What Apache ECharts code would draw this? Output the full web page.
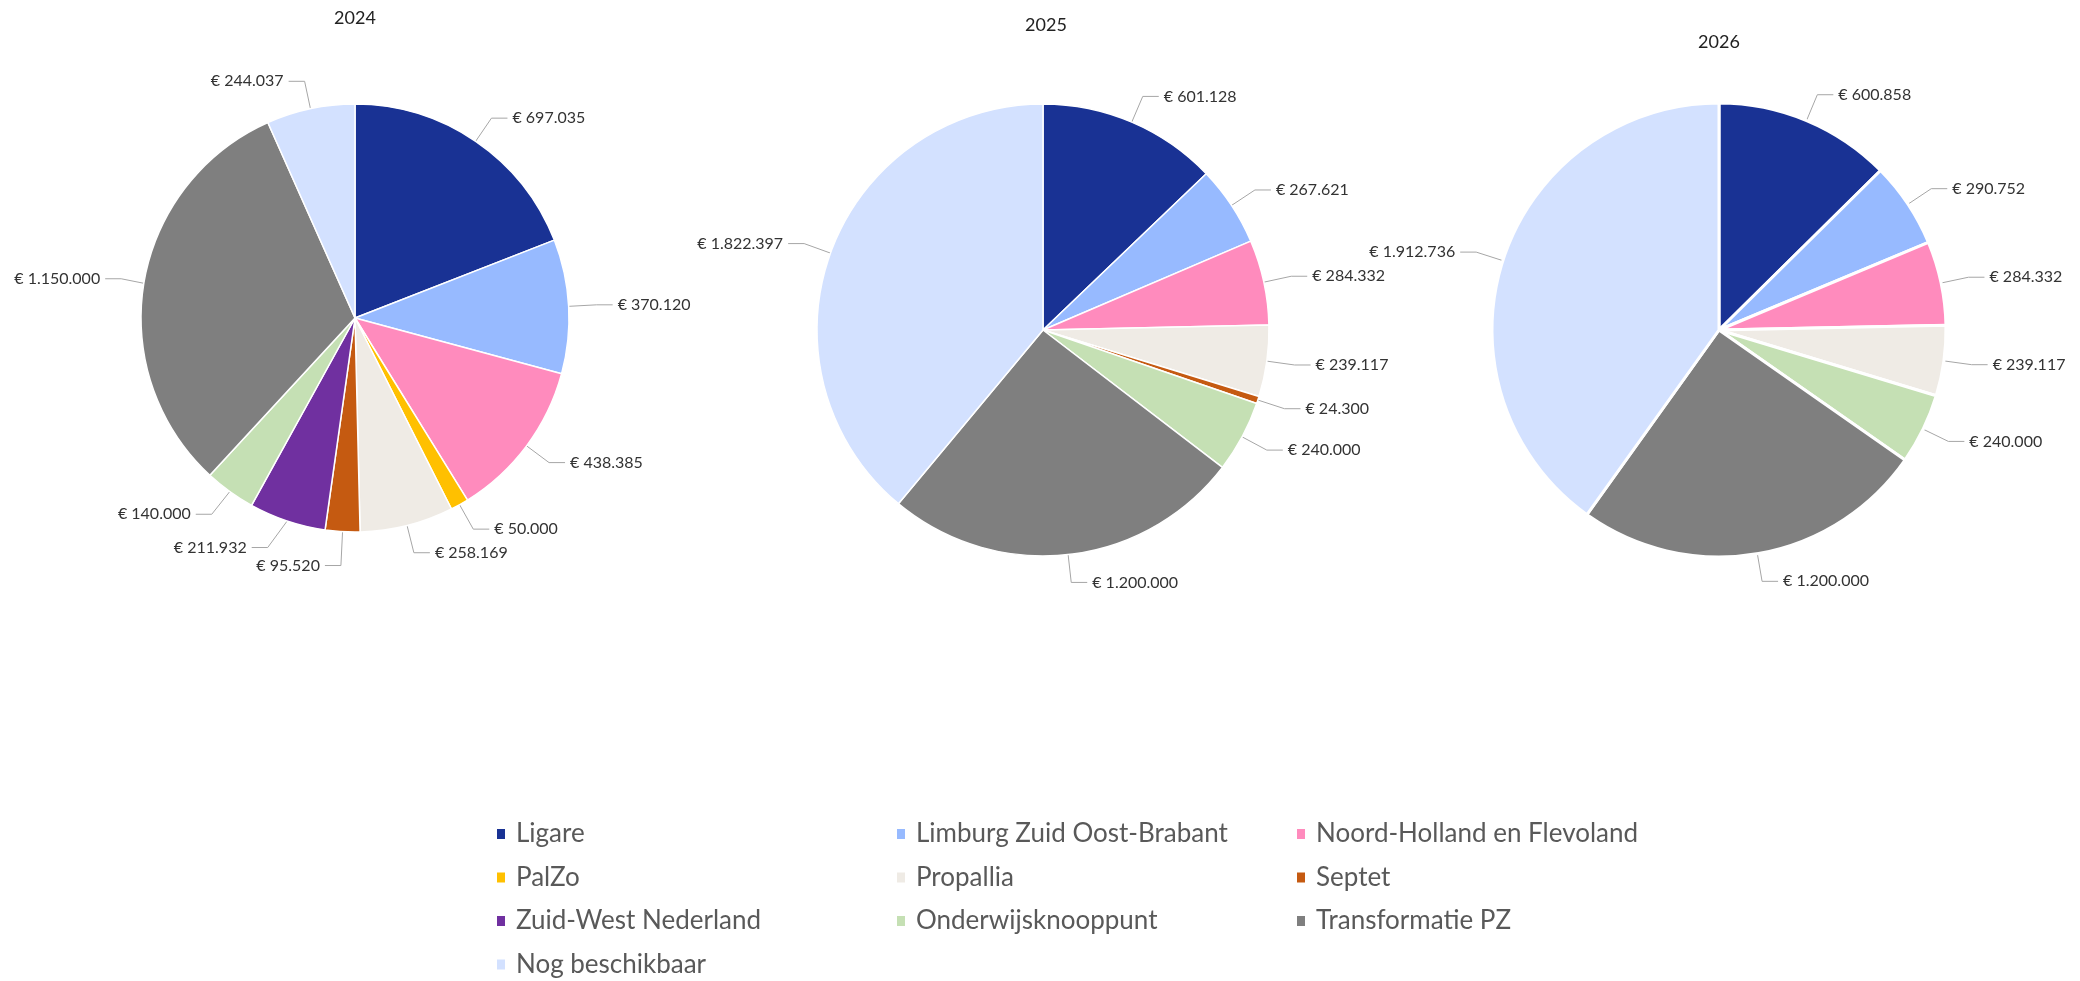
<!DOCTYPE html>
<html>
<head>
<meta charset="utf-8">
<title>Verdeling per jaar</title>
<script src="https://cdn.jsdelivr.net/npm/echarts@6/dist/echarts.min.js"></script>
<style>
  html, body { margin: 0; padding: 0; background: #fff; }
  #main { width: 2080px; height: 981px; }
</style>
</head>
<body>
<div id="main"></div>
<script>
// categories + colours (same order as in the legend)
const categories = [
  'Ligare', 'Limburg Zuid Oost-Brabant', 'Noord-Holland en Flevoland',
  'PalZo', 'Propallia', 'Septet',
  'Zuid-West Nederland', 'Onderwijsknooppunt', 'Transformatie PZ',
  'Nog beschikbaar'
];
const colors = [
  '#193294', '#97baff', '#ff8bbd',
  '#ffc000', '#efebe5', '#c55a11',
  '#7030a0', '#c5e0b4', '#7f7f7f',
  '#d3e1ff'
];
const years = ['2024', '2025', '2026'];

// null = no amount that year
const values2024 = [697035, 370120, 438385, 50000, 258169, 95520, 211932, 140000, 1150000, 244037];
const values2025 = [601128, 267621, 284332, null, 239117, 24300, null, 240000, 1200000, 1822397];
const values2026 = [600858, 290752, 284332, null, 239117, null, null, 240000, 1200000, 1912736];

const FONT = 'Lato';

function euro(v) {
  return '€ ' + String(v).replace(/\B(?=(\d{3})+(?!\d))/g, '.');
}

function pieData(values) {
  const out = [];
  values.forEach((v, i) => {
    if (v == null) return;
    out.push({ name: categories[i], value: v, itemStyle: { color: colors[i] } });
  });
  return out;
}

function pie(values, center, radius, border) {
  return {
    type: 'pie',
    center: center,
    radius: radius,
    startAngle: 90,
    clockwise: true,
    data: pieData(values),
    itemStyle: { borderColor: '#fff', borderWidth: border },
    label: {
      show: true,
      formatter: p => euro(p.value),
      fontFamily: FONT,
      fontSize: 16,
      color: '#333'
    },
    labelLine: {
      show: true,
      length: 28,
      length2: 16,
      lineStyle: { color: '#a6a6a6', width: 1 }
    },
    emphasis: { scale: false }
  };
}

function legend(names, left) {
  return {
    data: names,
    orient: 'vertical',
    left: left,
    top: 821,
    padding: 0,
    itemGap: 17.5,
    itemWidth: 10,
    itemHeight: 12,
    icon: 'rect',
    textStyle: {
      fontFamily: FONT,
      fontSize: 26,
      lineHeight: 26,
      color: '#595959',
      padding: [0, 0, 0, 5]
    }
  };
}

const chart = echarts.init(document.getElementById('main'));
chart.setOption({
  animation: false,
  title: [
    { text: years[0], left: 355, top: 9 },
    { text: years[1], left: 1046, top: 16 },
    { text: years[2], left: 1719, top: 33 }
  ].map(t => Object.assign(t, {
    textAlign: 'center',
    padding: 0,
    textStyle: { fontFamily: FONT, fontSize: 18, fontWeight: 'normal', color: '#222' }
  })),
  legend: [
    legend([categories[0], categories[3], categories[6], categories[9]], 495),
    legend([categories[1], categories[4], categories[7]], 895),
    legend([categories[2], categories[5], categories[8]], 1295)
  ],
  series: [
    pie(values2024, [355, 318], 214, 1.5),
    pie(values2025, [1043, 330], 226, 1.5),
    pie(values2026, [1719, 330], 227, 3)
  ]
});
</script>
</body>
</html>
